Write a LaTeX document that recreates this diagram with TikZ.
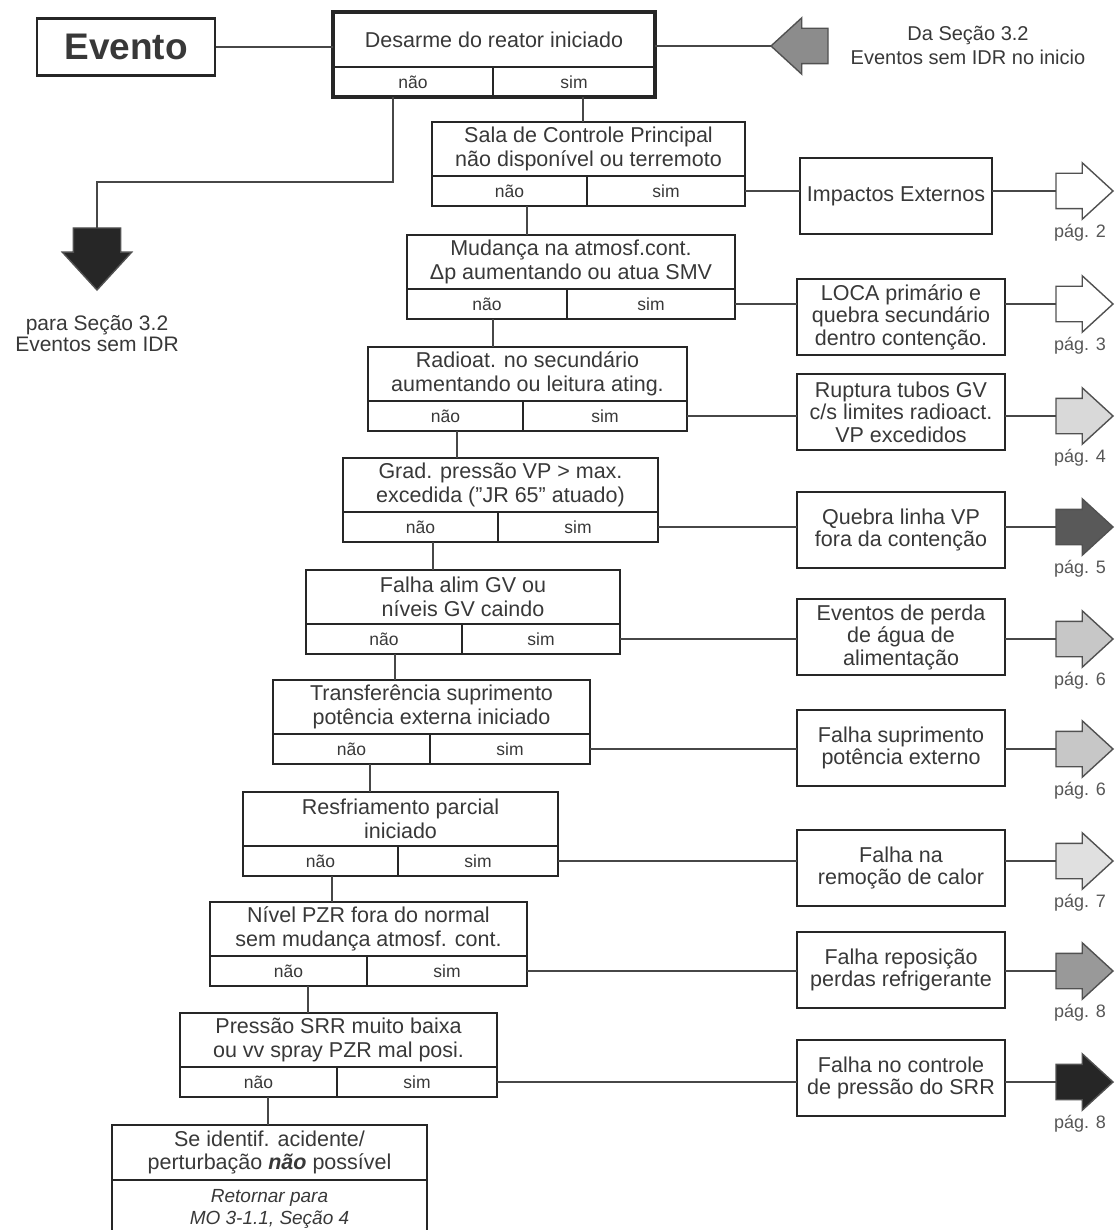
\documentclass[tikz,border=0pt]{standalone}
\usepackage{fontspec}
\setmainfont{Liberation Sans}
\usetikzlibrary{shapes.arrows,positioning}

\definecolor{ink}{HTML}{262626}
\definecolor{txt}{HTML}{383838}

\tikzset{
  qtop/.style={draw=ink, line width=1.6pt, align=center, minimum height=54, inner sep=0pt, outer sep=0pt, text=txt, font=\fontsize{21.5}{23.5}\selectfont},
  qans/.style={draw=ink, line width=1.6pt, minimum height=30, inner sep=0pt, outer sep=0pt, text=txt, font=\fontsize{17.5}{19}\selectfont},
  qframe/.style={draw=ink, line width=2.8pt},
  extbox/.style={draw=ink, line width=2.8pt, align=center, minimum height=76, inner sep=0pt, outer sep=0pt, text=txt, font=\fontsize{21.5}{22.5}\selectfont},
  link/.style={draw=ink!85, line width=1.6pt},
  pgarrow/.style={single arrow, draw=ink!80, line width=1.4pt, minimum height=57, inner xsep=0pt, inner ysep=17pt, single arrow head extend=10.5, single arrow tip angle=85, outer sep=0pt},
  pglabel/.style={text=txt!85, inner sep=0pt, font=\fontsize{18}{20}\selectfont},
  sectxt/.style={text=txt, align=center, inner sep=0pt, font=\fontsize{20}{24}\selectfont},
}

\begin{document}
\begin{tikzpicture}[x=1pt, y=-1pt]
\useasboundingbox (0,0) rectangle (1117,1230);

\node[draw=ink, line width=2.8pt, minimum width=178, minimum height=57, text=txt, font=\fontsize{37}{38}\selectfont\bfseries] (evento) at (126,47) {Evento};

\node[qtop, minimum width=322, minimum height=55, anchor=north west] (q1) at (333,12) {Desarme do reator iniciado};
\node[qans, minimum width=160, anchor=north west] (q1n) at (q1.south west) {não};
\node[qans, minimum width=162, anchor=north west] (q1s) at (q1n.north east) {sim};
\draw[qframe, line width=4.5pt] (q1.north west) rectangle (q1s.south east);
\draw[link] (evento.east) -- (evento.east -| q1.west);

\node[pgarrow, fill=black!45, rotate=180, anchor=tip] (dasec) at (771,46) {};
\draw[link] (dasec.tip -| q1.east) -- (dasec.tip);
\node[sectxt] (dasectxt) at (968,45) {Da Seção 3.2\\Eventos sem IDR no inicio};

\node[pgarrow, fill=ink, inner ysep=23pt, single arrow head extend=11, minimum height=62, rotate=-90, anchor=tail] (parasec) at (97,228) {};
\coordinate (bend) at (393,182);
\draw[link] (q1n.south -| bend) -- (bend) -| (parasec.tail);
\node[sectxt, font=\fontsize{21}{21}\selectfont] (parasectxt) at (97,334) {para Seção 3.2\\Eventos sem IDR};

\foreach \q/\l/\t/\w/\d/\txt in {
  2/432/122/313/155/{Sala de Controle Principal\\não disponível ou terremoto},
  3/407/235/328/160/{Mudança na atmosf.cont.\\Δp aumentando ou atua SMV},
  4/368/347/319/155/{Radioat. no secundário\\aumentando ou leitura ating.},
  5/343/458/315/155/{Grad. pressão VP > max.\\excedida ("JR 65" atuado)},
  6/306/570/314/156/{Falha alim GV ou\\níveis GV caindo},
  7/273/680/317/157/{Transferência suprimento\\potência externa iniciado},
  8/243/792/315/155/{Resfriamento parcial\\iniciado},
  9/210/902/317/157/{Nível PZR fora do normal\\sem mudança atmosf. cont.},
  10/180/1013/317/157/{Pressão SRR muito baixa\\ou vv spray PZR mal posi.}}
{
  \node[qtop, minimum width=\w, anchor=north west] (q\q) at (\l,\t) {\txt};
  \node[qans, minimum width=\d, anchor=north west] (q\q n) at (q\q.south west) {não};
  \node[qans, minimum width=\w-\d, anchor=north west] (q\q s) at (q\q n.north east) {sim};
  \draw[qframe] (q\q.north west) rectangle (q\q s.south east);
}

\node[qtop, minimum width=315, minimum height=55, anchor=north west] (qend) at (112,1125) {Se identif. acidente/\\perturbação \textbf{\textit{não}} possível};
\node[qtop, minimum width=315, minimum height=58, anchor=north west, font=\fontsize{19}{22}\selectfont\itshape] (qret) at (qend.south west) {Retornar para\\MO 3-1.1, Seção 4};
\draw[qframe] (qend.north west) rectangle (qret.south east);

\draw[link] (q1s.south -| 583,0) -- (q2.north -| 583,0);
\foreach \a/\b/\lx in {2/3/527, 3/4/493, 4/5/457, 5/6/433, 6/7/395, 7/8/370, 8/9/332, 9/10/308}
  \draw[link] (q\a n.south -| \lx,0) -- (q\b.north -| \lx,0);
\draw[link] (q10n.south -| 268,0) -- (qend.north -| 268,0);

\foreach \q/\x/\y/\w/\c/\pg/\txt in {
  2/896/196/192/white/2/{Impactos Externos},
  3/901/317/208/white/3/{LOCA primário e\\quebra secundário\\dentro contenção.},
  4/901/412/208/black!15/4/{Ruptura tubos GV\\c/s limites radioact.\\VP excedidos},
  5/901/530/208/black!65/5/{Quebra linha VP\\fora da contenção},
  6/901/637/208/black!22/6/{Eventos de perda\\de água de\\alimentação},
  7/901/748/208/black!22/6/{Falha suprimento\\potência externo},
  8/901/868/208/black!12/7/{Falha na\\remoção de calor},
  9/901/970/208/black!40/8/{Falha reposição\\perdas refrigerante},
  10/901/1078/208/ink/8/{Falha no controle\\de pressão do SRR}}
{
  \node[extbox, minimum width=\w] (e\q) at (\x,\y) {\txt};
  \draw[link] (q\q s.east) -- (q\q s.east -| e\q.west);
  \node[pgarrow, fill=\c, anchor=tail] (a\q) at (q\q s.east -| 1056,0) {};
  \draw[link] (a\q.tail -| e\q.east) -- (a\q.tail);
  \node[pglabel] (p\q) at ([xshift=24pt, yshift=-42pt]a\q.tail) {pág. \pg};
}
\end{tikzpicture}
\end{document}
